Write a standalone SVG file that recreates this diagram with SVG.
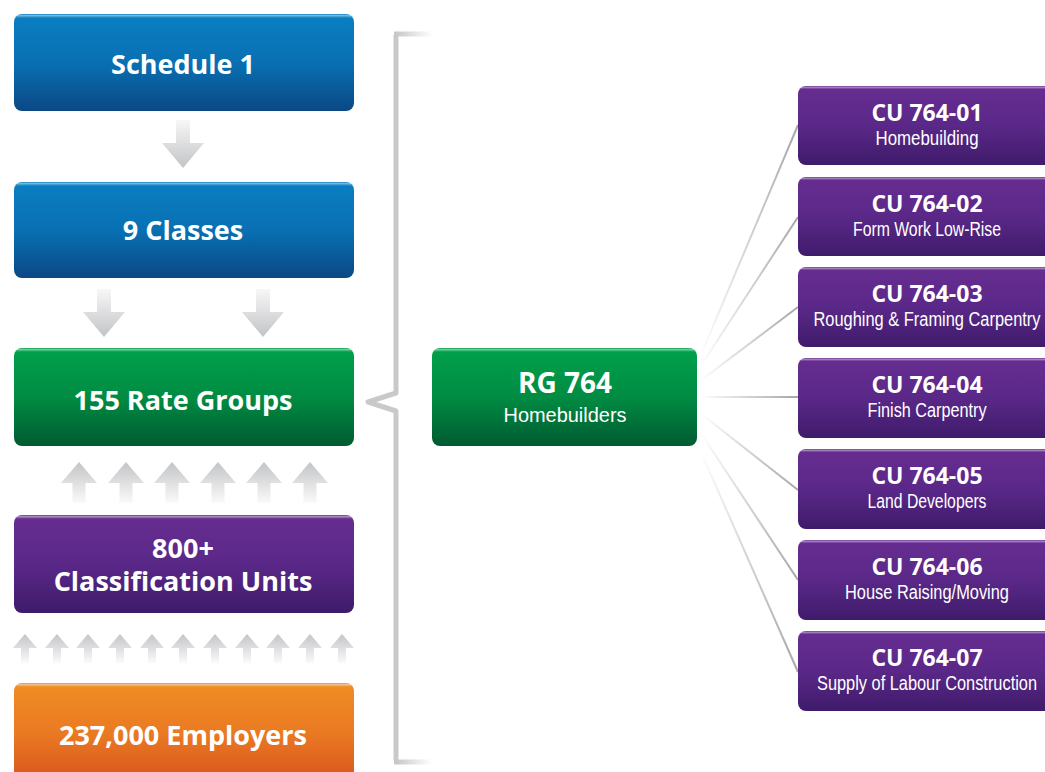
<svg xmlns="http://www.w3.org/2000/svg" width="1045" height="772" viewBox="0 0 1045 772">
<defs>
<linearGradient id="gBlue" x1="0" y1="0" x2="0" y2="1"><stop offset="0" stop-color="#0a7fc2"/><stop offset="0.5" stop-color="#0870b3"/><stop offset="1" stop-color="#0b4884"/></linearGradient>
<linearGradient id="gGreen" x1="0" y1="0" x2="0" y2="1"><stop offset="0" stop-color="#00a14b"/><stop offset="0.5" stop-color="#008c43"/><stop offset="1" stop-color="#005b31"/></linearGradient>
<linearGradient id="gPurple" x1="0" y1="0" x2="0" y2="1"><stop offset="0" stop-color="#672d91"/><stop offset="0.5" stop-color="#5a2888"/><stop offset="1" stop-color="#3f1b6b"/></linearGradient>
<linearGradient id="gOrange" x1="0" y1="0" x2="0" y2="1"><stop offset="0" stop-color="#f08d24"/><stop offset="0.5" stop-color="#ea7a22"/><stop offset="1" stop-color="#d9531e"/></linearGradient>
<linearGradient id="gShine" x1="0" y1="0" x2="0" y2="1"><stop offset="0" stop-color="#fff" stop-opacity="0"/><stop offset="0.015" stop-color="#fff" stop-opacity="0.45"/><stop offset="0.04" stop-color="#fff" stop-opacity="0"/></linearGradient>
<linearGradient id="gDown" x1="0" y1="0" x2="0" y2="1"><stop offset="0" stop-color="#f7f7f7"/><stop offset="1" stop-color="#c3c4c6"/></linearGradient>
<linearGradient id="gUp" x1="0" y1="0" x2="0" y2="1"><stop offset="0" stop-color="#c3c4c6"/><stop offset="1" stop-color="#fafafa"/></linearGradient>
<linearGradient id="gLine" gradientUnits="userSpaceOnUse" x1="700" y1="0" x2="798" y2="0"><stop offset="0" stop-color="#ffffff"/><stop offset="1" stop-color="#a5a6a9"/></linearGradient>
<linearGradient id="gBrTop" gradientUnits="userSpaceOnUse" x1="396" y1="0" x2="432" y2="0"><stop offset="0" stop-color="#c6c7c9"/><stop offset="1" stop-color="#ffffff"/></linearGradient>
<path id="downBig" d="M -7 0 H 7 V 23 H 21 L 0 48 L -21 23 H -7 Z"/>
<path id="upMid" d="M 0 0 L 18 21 H 6.5 V 41 H -6.5 V 21 H -18 Z"/>
<path id="upSmall" d="M 0 0 L 12 14 H 4 V 29 H -4 V 14 H -12 Z"/>
</defs>
<style>
.box{stroke:none}
.shine{fill:url(#gShine)}
.t{fill:#fff;font-family:"Open Sans","DejaVu Sans",sans-serif;font-weight:700;text-anchor:middle}
.big{font-size:27px}
.cu{font-size:23px}
.sub{fill:#fff;font-family:"Liberation Sans",Arial,sans-serif;font-size:20px;text-anchor:middle}
.conn{fill:none;stroke:url(#gLine);stroke-width:2}
.dn{fill:url(#gDown)}
.up{fill:url(#gUp)}
</style>
<rect width="1045" height="772" fill="#ffffff"/>

<g id="arrows">
<use href="#downBig" class="dn" transform="translate(183,120)"/>
<use href="#downBig" class="dn" transform="translate(104,289)"/>
<use href="#downBig" class="dn" transform="translate(263,289)"/>
<use href="#upMid" class="up" transform="translate(79,462)"/>
<use href="#upMid" class="up" transform="translate(126,462)"/>
<use href="#upMid" class="up" transform="translate(172,462)"/>
<use href="#upMid" class="up" transform="translate(218,462)"/>
<use href="#upMid" class="up" transform="translate(264,462)"/>
<use href="#upMid" class="up" transform="translate(310,462)"/>
<use href="#upSmall" class="up" transform="translate(25,634)"/>
<use href="#upSmall" class="up" transform="translate(57,634)"/>
<use href="#upSmall" class="up" transform="translate(88,634)"/>
<use href="#upSmall" class="up" transform="translate(120,634)"/>
<use href="#upSmall" class="up" transform="translate(152,634)"/>
<use href="#upSmall" class="up" transform="translate(183,634)"/>
<use href="#upSmall" class="up" transform="translate(215,634)"/>
<use href="#upSmall" class="up" transform="translate(247,634)"/>
<use href="#upSmall" class="up" transform="translate(278,634)"/>
<use href="#upSmall" class="up" transform="translate(310,634)"/>
<use href="#upSmall" class="up" transform="translate(342,634)"/>
</g>

<g id="bracket">
<path d="M 396 35 V 393 L 368 402 L 396 411 V 760" fill="none" stroke="#c8c9cb" stroke-width="5" stroke-linejoin="round"/>
<path d="M 394 34 H 432" fill="none" stroke="url(#gBrTop)" stroke-width="5"/>
<path d="M 394 762 H 432" fill="none" stroke="url(#gBrTop)" stroke-width="5"/>
</g>

<g id="connectors">
<path class="conn" d="M 700 357 L 798 125"/>
<path class="conn" d="M 700 367 L 798 217"/>
<path class="conn" d="M 700 381 L 798 307"/>
<path class="conn" d="M 700 397 L 798 397"/>
<path class="conn" d="M 700 413 L 798 490"/>
<path class="conn" d="M 700 432 L 798 580"/>
<path class="conn" d="M 700 450 L 798 672"/>
</g>

<g id="schedule1">
<rect class="box" x="14" y="14" width="340" height="97" rx="8" fill="url(#gBlue)"/>
<rect x="14" y="14" width="340" height="97" rx="8" class="shine"/>
<text class="t big" x="183" y="74">Schedule 1</text>
</g>
<g id="classes">
<rect class="box" x="14" y="182" width="340" height="96" rx="8" fill="url(#gBlue)"/>
<rect x="14" y="182" width="340" height="96" rx="8" class="shine"/>
<text class="t big" x="183" y="240">9 Classes</text>
</g>
<g id="rategroups">
<rect class="box" x="14" y="348" width="340" height="98" rx="8" fill="url(#gGreen)"/>
<rect x="14" y="348" width="340" height="98" rx="8" class="shine"/>
<text class="t big" x="183" y="410">155 Rate Groups</text>
</g>
<g id="cunits">
<rect class="box" x="14" y="515" width="340" height="98" rx="8" fill="url(#gPurple)"/>
<rect x="14" y="515" width="340" height="98" rx="8" class="shine"/>
<text class="t big" x="183" y="558">800+</text>
<text class="t big" x="183" y="591">Classification Units</text>
</g>
<g id="employers">
<rect class="box" x="14" y="683" width="340" height="100" rx="8" fill="url(#gOrange)"/>
<rect x="14" y="683" width="340" height="100" rx="8" class="shine"/>
<text class="t big" x="183" y="745">237,000 Employers</text>
</g>

<g id="rg764">
<rect class="box" x="432" y="348" width="265" height="98" rx="8" fill="url(#gGreen)"/>
<rect x="432" y="348" width="265" height="98" rx="8" class="shine"/>
<text class="t" x="565" y="393" font-size="28">RG 764</text>
<text class="sub" x="565" y="422" font-size="22" textLength="123" lengthAdjust="spacingAndGlyphs">Homebuilders</text>
</g>

<g id="cu01">
<rect class="box" x="798" y="86" width="260" height="79" rx="8" fill="url(#gPurple)"/>
<rect x="798" y="86" width="260" height="79" rx="8" class="shine"/>
<text class="t cu" x="927" y="121">CU 764-01</text>
<text class="sub" x="927" y="145" textLength="103" lengthAdjust="spacingAndGlyphs">Homebuilding</text>
</g>
<g id="cu02">
<rect class="box" x="798" y="177" width="260" height="79" rx="8" fill="url(#gPurple)"/>
<rect x="798" y="177" width="260" height="79" rx="8" class="shine"/>
<text class="t cu" x="927" y="212">CU 764-02</text>
<text class="sub" x="927" y="236" textLength="148" lengthAdjust="spacingAndGlyphs">Form Work Low-Rise</text>
</g>
<g id="cu03">
<rect class="box" x="798" y="267" width="260" height="80" rx="8" fill="url(#gPurple)"/>
<rect x="798" y="267" width="260" height="80" rx="8" class="shine"/>
<text class="t cu" x="927" y="302">CU 764-03</text>
<text class="sub" x="927" y="326" textLength="227" lengthAdjust="spacingAndGlyphs">Roughing &amp; Framing Carpentry</text>
</g>
<g id="cu04">
<rect class="box" x="798" y="358" width="260" height="80" rx="8" fill="url(#gPurple)"/>
<rect x="798" y="358" width="260" height="80" rx="8" class="shine"/>
<text class="t cu" x="927" y="393">CU 764-04</text>
<text class="sub" x="927" y="417" textLength="119" lengthAdjust="spacingAndGlyphs">Finish Carpentry</text>
</g>
<g id="cu05">
<rect class="box" x="798" y="449" width="260" height="80" rx="8" fill="url(#gPurple)"/>
<rect x="798" y="449" width="260" height="80" rx="8" class="shine"/>
<text class="t cu" x="927" y="484">CU 764-05</text>
<text class="sub" x="927" y="508" textLength="119" lengthAdjust="spacingAndGlyphs">Land Developers</text>
</g>
<g id="cu06">
<rect class="box" x="798" y="540" width="260" height="80" rx="8" fill="url(#gPurple)"/>
<rect x="798" y="540" width="260" height="80" rx="8" class="shine"/>
<text class="t cu" x="927" y="575">CU 764-06</text>
<text class="sub" x="927" y="599" textLength="164" lengthAdjust="spacingAndGlyphs">House Raising/Moving</text>
</g>
<g id="cu07">
<rect class="box" x="798" y="631" width="260" height="80" rx="8" fill="url(#gPurple)"/>
<rect x="798" y="631" width="260" height="80" rx="8" class="shine"/>
<text class="t cu" x="927" y="666">CU 764-07</text>
<text class="sub" x="927" y="690" textLength="220" lengthAdjust="spacingAndGlyphs">Supply of Labour Construction</text>
</g>
</svg>
